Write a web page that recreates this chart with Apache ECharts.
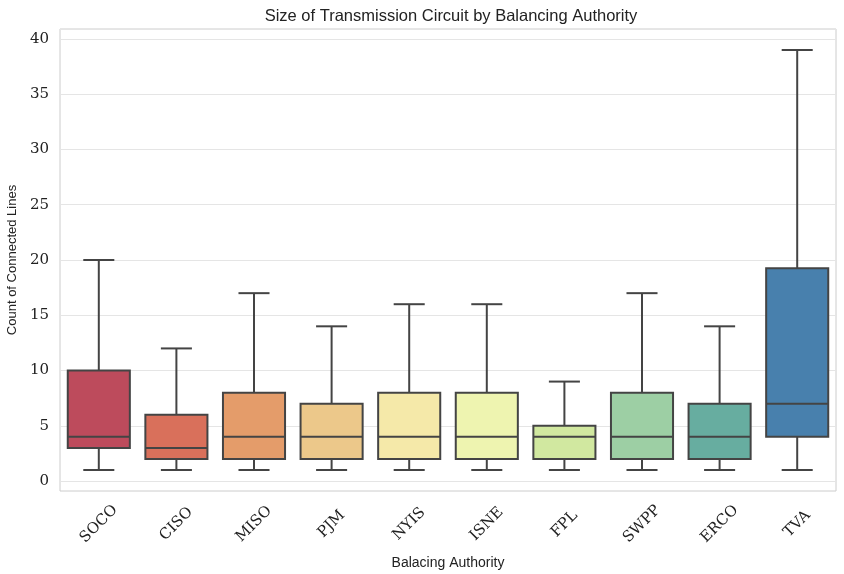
<!DOCTYPE html>
<html><head><meta charset="utf-8">
<script src="https://cdn.jsdelivr.net/npm/echarts@6/dist/echarts.min.js"></script>
<style>html,body{margin:0;padding:0;background:#fff}#c{width:844px;height:574px}</style>
</head><body><div id="c"></div>
<script>
const categories = ['SOCO','CISO','MISO','PJM','NYIS','ISNE','FPL','SWPP','ERCO','TVA'];
const mins    = [1, 1, 1, 1, 1, 1, 1, 1, 1, 1];
const q1s     = [3, 2, 2, 2, 2, 2, 2, 2, 2, 4];
const medians = [4, 3, 4, 4, 4, 4, 4, 4, 4, 7];
const q3s     = [10, 6, 8, 7, 8, 8, 5, 8, 7, 19.25];
const maxs    = [20, 12, 17, 14, 16, 16, 9, 17, 14, 39];
const colors  = ['#bd4b5c','#d9705b','#e49c6a','#ecc88a','#f5e9a9','#eef4b0','#d1e8a0','#9dcfa4','#67ada0','#4880ad'];

const data = categories.map((c, i) => [i, mins[i], q1s[i], medians[i], q3s[i], maxs[i]]);
const chart = echarts.init(document.getElementById('c'));
const lineCol = '#444444';
const serif = '"DejaVu Serif", serif';
const sans = '"Liberation Sans", Arial, sans-serif';
chart.setOption({
  animation: false,
  title: { text: 'Size of Transmission Circuit by Balancing Authority', left: 446, textAlign: 'center', top: 3,
    textStyle: { fontFamily: sans, fontSize: 16.5, fontWeight: 'normal', color: '#222' } },
  grid: { left: 60, right: 8, top: 29, bottom: 83, show: true, borderColor: '#cccccc', borderWidth: 1,
    containLabel: false, outerBoundsMode: 'none' },
  xAxis: {
    type: 'category', data: categories,
    axisLine: { show: false }, axisTick: { show: false }, splitLine: { show: false },
    axisLabel: { rotate: 45, align: 'center', verticalAlign: 'middle', margin: 33, fontFamily: serif, fontSize: 15, color: '#222' },
    name: 'Balacing Authority', nameLocation: 'middle', nameGap: 65,
    nameTextStyle: { fontFamily: sans, fontSize: 14, color: '#222' }
  },
  yAxis: {
    type: 'value', min: -0.9, max: 40.9, splitNumber: 8,
    axisLine: { show: false }, axisTick: { show: false },
    splitLine: { lineStyle: { color: '#e5e5e5', width: 1 } },
    axisLabel: { margin: 11, fontFamily: serif, fontSize: 15, color: '#222', showMinLabel: false, showMaxLabel: false,
      formatter: v => (Math.abs(v % 5) < 1e-9 ? String(v) : '') },
    name: 'Count of Connected Lines', nameLocation: 'middle', nameGap: 32,
    nameTextStyle: { fontFamily: sans, fontSize: 13, color: '#222' }
  },
  series: [{
    type: 'custom',
    data: data,
    encode: { x: 0, y: [1, 2, 3, 4, 5] },
    renderItem: function (params, api) {
      const i = api.value(0);
      const bw = api.size([1, 0])[0] * 0.8;
      const cx = api.coord([i, 0])[0];
      const yMin = api.coord([i, api.value(1)])[1];
      const yQ1 = api.coord([i, api.value(2)])[1];
      const yMed = api.coord([i, api.value(3)])[1];
      const yQ3 = api.coord([i, api.value(4)])[1];
      const yMax = api.coord([i, api.value(5)])[1];
      const cw = bw / 4;
      const ls = { stroke: lineCol, lineWidth: 2 };
      return { type: 'group', children: [
        { type: 'line', shape: { x1: cx, y1: yQ1, x2: cx, y2: yMin }, style: ls },
        { type: 'line', shape: { x1: cx, y1: yQ3, x2: cx, y2: yMax }, style: ls },
        { type: 'line', shape: { x1: cx - cw, y1: yMin, x2: cx + cw, y2: yMin }, style: ls },
        { type: 'line', shape: { x1: cx - cw, y1: yMax, x2: cx + cw, y2: yMax }, style: ls },
        { type: 'rect', shape: { x: cx - bw / 2, y: yQ3, width: bw, height: yQ1 - yQ3 },
          style: { fill: colors[i], stroke: lineCol, lineWidth: 2 } },
        { type: 'line', shape: { x1: cx - bw / 2, y1: yMed, x2: cx + bw / 2, y2: yMed }, style: ls }
      ]};
    }
  }]
});
</script></body></html>
